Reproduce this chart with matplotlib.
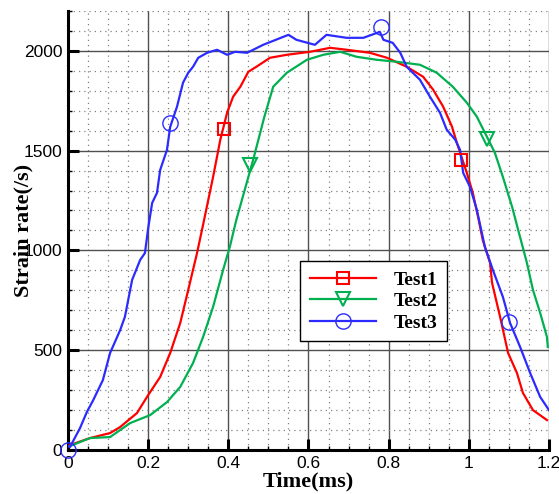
import matplotlib.pyplot as plt
from matplotlib.ticker import MultipleLocator

# Test1 (red)
t1 = [0.0, 0.005, 0.055, 0.105, 0.13, 0.172, 0.2, 0.23, 0.255, 0.28, 0.3, 0.322, 0.337,
      0.362, 0.38, 0.397, 0.412, 0.43, 0.45, 0.47, 0.504, 0.546, 0.604, 0.654, 0.696,
      0.753, 0.796, 0.845, 0.886, 0.911, 0.936, 0.958, 0.97, 0.995, 1.01, 1.023, 1.035,
      1.053, 1.058, 1.078, 1.098, 1.12, 1.135, 1.16, 1.195]
v1 = [20, 25, 60, 85, 115, 185, 275, 366, 486, 636, 802, 987, 1128,
      1368, 1554, 1690, 1770, 1820, 1895, 1920, 1965, 1980, 1995, 2015, 2005,
      1990, 1965, 1920, 1870, 1805, 1720, 1620, 1540, 1388, 1288, 1168, 1050,
      937, 837, 667, 486, 386, 286, 200, 150]

# Test2 (green)
t2 = [0.0, 0.005, 0.055, 0.105, 0.155, 0.205, 0.247, 0.28, 0.312, 0.337, 0.362, 0.387,
      0.404, 0.42, 0.462, 0.49, 0.512, 0.546, 0.596, 0.637, 0.679, 0.72, 0.77, 0.82,
      0.878, 0.92, 0.96, 0.995, 1.02, 1.045, 1.065, 1.085, 1.108, 1.125, 1.145, 1.16,
      1.178, 1.195, 1.197]
v2 = [20, 20, 60, 65, 135, 175, 240, 316, 436, 566, 717, 902,
      1020, 1153, 1454, 1670, 1820, 1890, 1955, 1980, 1995, 1970, 1955, 1945,
      1930, 1890, 1820, 1740, 1670, 1570, 1489, 1368, 1218, 1088, 937, 802,
      687, 566, 516]

# Test3 (blue)
t3 = [0.0, 0.005, 0.03, 0.047, 0.063, 0.087, 0.105, 0.13, 0.142, 0.16, 0.18, 0.192,
      0.2, 0.21, 0.222, 0.23, 0.247, 0.255, 0.272, 0.287, 0.3, 0.312, 0.325, 0.347,
      0.372, 0.397, 0.417, 0.447, 0.487, 0.55, 0.57, 0.616, 0.645, 0.695, 0.737,
      0.778, 0.787, 0.81, 0.829, 0.845, 0.878, 0.903, 0.928, 0.945, 0.966, 0.978,
      0.986, 1.003, 1.02, 1.04, 1.06, 1.085, 1.103, 1.128, 1.153, 1.178, 1.2]
v3 = [20, 15, 110, 190, 250, 350, 486, 600, 667, 852, 952, 987,
      1110, 1238, 1288, 1403, 1504, 1619, 1720, 1840, 1890, 1920, 1965, 1990,
      2005, 1980, 1995, 1990, 2030, 2080, 2055, 2030, 2080, 2065, 2065,
      2095, 2055, 2040, 1990, 1920, 1855, 1770, 1690, 1604, 1555, 1504,
      1388, 1318, 1203, 1018, 902, 767, 636, 516, 386, 266, 200]

# marker positions
t1_mk = [0.39, 0.98]
v1_mk = [1610, 1455]
t2_mk = [0.455, 1.045]
v2_mk = [1430, 1560]
t3_mk = [0.0, 0.255, 0.78, 1.1]
v3_mk = [0, 1640, 2120, 640]

red = '#ff0000'
green = '#00b050'
blue = '#2b2bff'

fig = plt.figure(figsize=(5.59, 4.94), dpi=100)
ax = fig.add_axes([0.1216, 0.089, 0.8605, 0.889])

ax.grid(True, which='major', color='#505050', lw=1.0, ls='-', zorder=0)
ax.grid(True, which='minor', color='#808080', lw=0.9, ls=(0, (1, 3.2)), zorder=0)
ax.set_axisbelow(True)

ax.plot(t1, v1, color=red, lw=1.6, zorder=3)
ax.plot(t2, v2, color=green, lw=1.6, zorder=3)
ax.plot(t3, v3, color=blue, lw=1.6, zorder=3)

ax.plot(t1_mk, v1_mk, ls='none', marker='s', ms=9, mfc='none', mec=red, mew=1.5, zorder=4)
ax.plot(t2_mk, v2_mk, ls='none', marker='v', ms=10, mfc='none', mec=green, mew=1.5, zorder=4)
ax.plot(t3_mk, v3_mk, ls='none', marker='o', ms=11, mfc='none', mec=blue, mew=1.0,
        zorder=4, clip_on=False)

# legend entries
ax.plot([], [], color=red, lw=1.6, marker='s', ms=9, mfc='none', mec=red, mew=1.5, label='Test1')
ax.plot([], [], color=green, lw=1.6, marker='v', ms=10, mfc='none', mec=green, mew=1.5, label='Test2')
ax.plot([], [], color=blue, lw=1.6, marker='o', ms=11, mfc='none', mec=blue, mew=1.0, label='Test3')

leg = ax.legend(loc='upper left', bbox_to_anchor=(0.463, 0.452), fancybox=False,
                edgecolor='black', framealpha=1, handlelength=3.4, borderpad=0.5,
                labelspacing=0.2, handletextpad=0.9,
                prop={'family': 'Liberation Serif', 'weight': 'bold', 'size': 14})
leg.get_frame().set_linewidth(1.0)

ax.set_xlim(0, 1.2)
ax.set_ylim(0, 2200)
ax.xaxis.set_major_locator(MultipleLocator(0.2))
ax.xaxis.set_minor_locator(MultipleLocator(0.05))
ax.yaxis.set_major_locator(MultipleLocator(500))
ax.yaxis.set_minor_locator(MultipleLocator(100))
ax.set_xticks([0, 0.2, 0.4, 0.6, 0.8, 1.0, 1.2])
ax.set_xticklabels(['0', '0.2', '0.4', '0.6', '0.8', '1', '1.2'])

for s in ['top', 'right']:
    ax.spines[s].set_visible(False)
for s in ['left', 'bottom']:
    ax.spines[s].set_linewidth(2.2)

ax.tick_params(axis='both', which='major', direction='in', length=8, width=2.2,
               labelsize=12.5, pad=4)
ax.tick_params(axis='both', which='minor', direction='in', length=3, width=1)
for lab in ax.get_xticklabels() + ax.get_yticklabels():
    lab.set_family('Liberation Sans')

ax.set_xlabel('Time(ms)', family='Liberation Serif', weight='bold', size=16)
ax.set_ylabel('Strain rate(/s)', family='Liberation Serif', weight='bold', size=16)
ax.xaxis.set_label_coords(0.5, -0.048)
ax.yaxis.set_label_coords(-0.071, 0.5)

fig.savefig('out.png', dpi=100)
